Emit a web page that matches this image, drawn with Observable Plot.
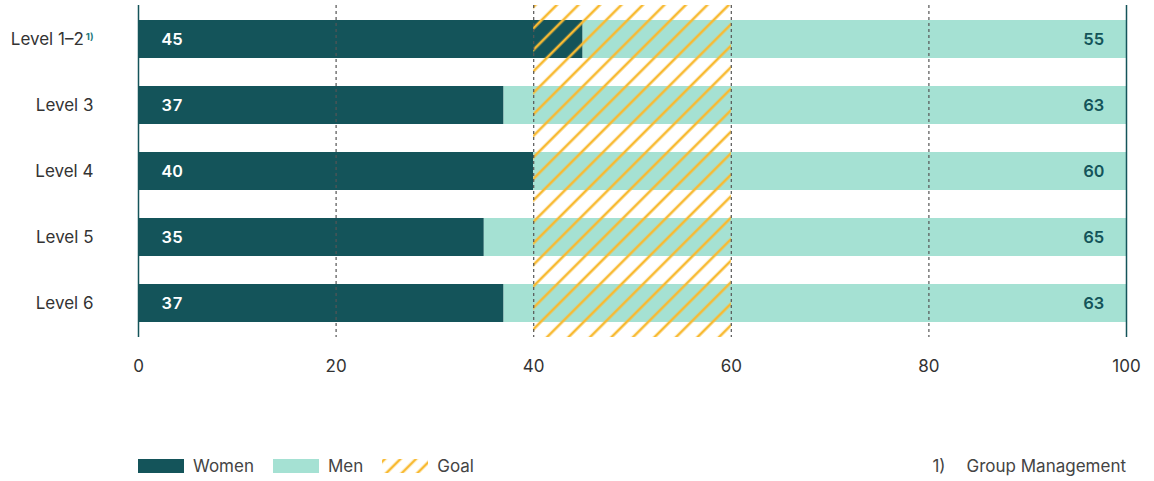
<!DOCTYPE html>
<html>
<head>
<meta charset="utf-8">
<script src="https://cdn.jsdelivr.net/npm/d3@7"></script>
<script src="https://cdn.jsdelivr.net/npm/@observablehq/plot@0.6"></script>
<style>
  html, body { margin: 0; padding: 0; background: #fff; }
  body { width: 1154px; font-family: Inter, "Noto Sans", sans-serif; }
  #chart svg { display: block; }
  #legend {
    box-sizing: border-box; width: 1154px; padding: 56px 28px 0 138px;
    display: flex; justify-content: space-between; align-items: center;
    font-size: 17px; color: #444; line-height: 20px;
  }
  .items { display: flex; align-items: center; }
  .item { display: flex; align-items: center; margin-right: 19px; }
  .sw { width: 46px; height: 14px; margin-right: 9px; display: inline-block; }
  .note span:first-child { margin-right: 21px; }
</style>
</head>
<body>
<div id="chart"></div>
<div id="legend"></div>
<script>
const levels = ["Level 1–2", "Level 3", "Level 4", "Level 5", "Level 6"];
const levelNotes = ["1)", "", "", "", ""];
const women = [45, 37, 40, 35, 37];
const men = [55, 63, 60, 65, 63];
const goalRange = [40, 60];
const xTicks = [0, 20, 40, 60, 80, 100];
const gridTicks = [20, 40, 60, 80];
const axisTicks = [0, 100];
const legendLabels = ["Women", "Men", "Goal"];
const footnote = ["1)", "Group Management"];

const DARK = "#14545A", LIGHT = "#A5E1D3", GOLD = "#F8BA32";

const rows = levels.map((l, i) => ({level: l, women: women[i], men: men[i], total: women[i] + men[i]}));

function hatchDefs() {
  const defs = d3.create("svg:defs");
  const p = defs.append("pattern")
    .attr("id", "hatch").attr("patternUnits", "userSpaceOnUse")
    .attr("width", 15.2).attr("height", 15.2)
    .attr("patternTransform", "rotate(45)");
  p.append("line").attr("x1", 2).attr("y1", -1).attr("x2", 2).attr("y2", 16.2)
    .attr("stroke", GOLD).attr("stroke-width", 2.6);
  return defs.node();
}

const chart = Plot.plot({
  width: 1154, height: 400,
  marginTop: 5, marginBottom: 63, marginLeft: 138, marginRight: 28,
  style: {fontFamily: "Inter, 'Noto Sans', sans-serif"},
  x: {domain: [0, 100], axis: null},
  y: {domain: levels, axis: null, paddingInner: 0.43, paddingOuter: 0.22},
  marks: [
    hatchDefs,
    Plot.barX(rows, {y: "level", x1: 0, x2: "women", fill: DARK}),
    Plot.barX(rows, {y: "level", x1: "women", x2: "total", fill: LIGHT}),
    Plot.rectX([goalRange], {x1: d => d[0], x2: d => d[1], fill: "url(#hatch)"}),
    Plot.ruleX(gridTicks, {stroke: "#555", strokeWidth: 1.2, strokeDasharray: "3,3"}),
    Plot.ruleX(axisTicks, {stroke: DARK, strokeWidth: 1.5}),
    Plot.text(rows, {y: "level", x: 0, text: "women", textAnchor: "start", dx: 23, fill: "white", fontWeight: 600, fontSize: 16.5}),
    Plot.text(rows, {y: "level", x: "total", text: "men", textAnchor: "end", dx: -22, fill: DARK, fontWeight: 600, fontSize: 16.5}),
    Plot.text(rows, {y: "level", x: 0, text: "level", textAnchor: "end", dx: -45, fill: "#333", fontSize: 17}),
    Plot.text(xTicks, {x: d => d, frameAnchor: "bottom", dy: 29, lineAnchor: "middle", text: d => String(d), fill: "#333", fontSize: 17})
  ]
});

// superscript footnote markers on category labels
d3.select(chart).selectAll("text").each(function() {
  const t = this.textContent;
  const i = levels.indexOf(t);
  if (i >= 0 && levelNotes[i]) {
    d3.select(this).append("tspan")
      .attr("dy", "-0.5em").attr("dx", 2)
      .attr("font-size", 9.5).attr("font-weight", 700).attr("fill", "#1E7A80")
      .text(levelNotes[i]);
  }
});

document.getElementById("chart").appendChild(chart);

// legend
const legend = d3.select("#legend");
const items = legend.append("div").attr("class", "items");
const swFills = [DARK, LIGHT, null];
legendLabels.forEach((lab, i) => {
  const it = items.append("div").attr("class", "item");
  if (swFills[i]) {
    it.append("span").attr("class", "sw").style("background", swFills[i]);
  } else {
    const s = it.append("svg").attr("class", "sw").attr("width", 46).attr("height", 14);
    const pd = s.append("defs").append("pattern").attr("id", "hatchL")
      .attr("patternUnits", "userSpaceOnUse").attr("width", 11).attr("height", 11)
      .attr("patternTransform", "rotate(45)");
    pd.append("line").attr("x1", 2).attr("y1", -1).attr("x2", 2).attr("y2", 12)
      .attr("stroke", GOLD).attr("stroke-width", 2.6);
    s.append("rect").attr("width", 46).attr("height", 14).attr("fill", "url(#hatchL)");
  }
  it.append("span").text(lab);
});
const note = legend.append("div").attr("class", "note");
note.append("span").text(footnote[0]);
note.append("span").text(footnote[1]);
</script>
</body>
</html>
